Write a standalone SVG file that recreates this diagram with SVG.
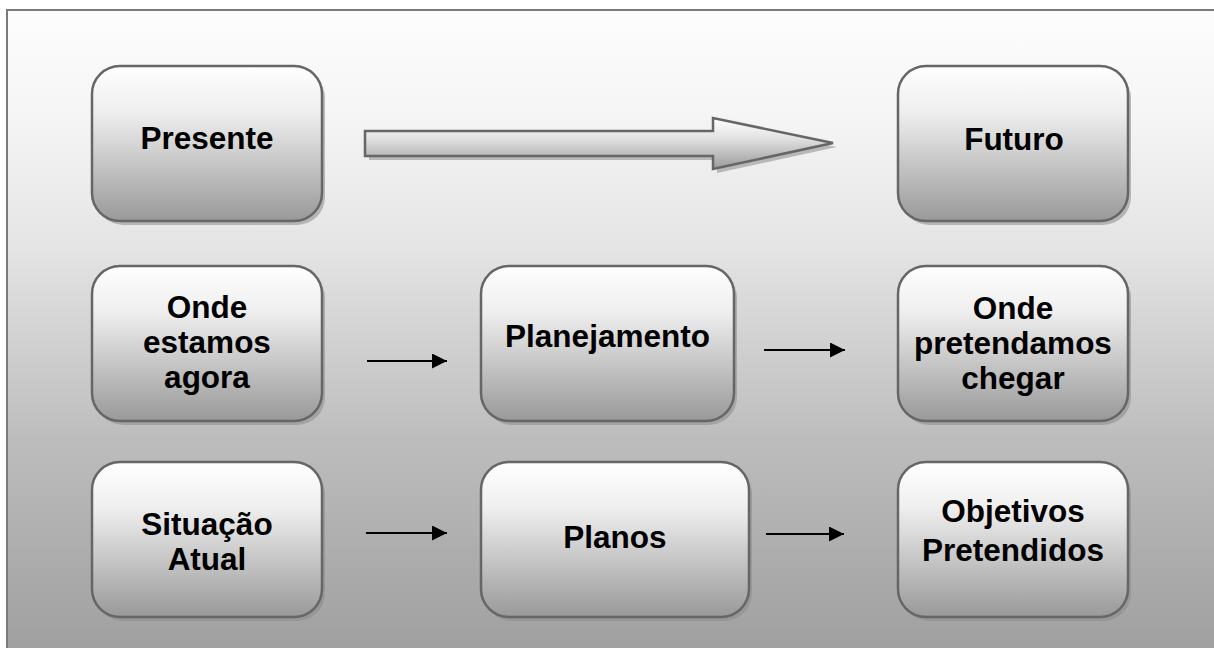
<svg xmlns="http://www.w3.org/2000/svg" width="1214" height="648" viewBox="0 0 1214 648">
  <defs>
    <linearGradient id="bg" x1="0" y1="10" x2="0" y2="648" gradientUnits="userSpaceOnUse">
      <stop offset="0" stop-color="#fdfdfd"/>
      <stop offset="0.15" stop-color="#f6f6f6"/>
      <stop offset="0.376" stop-color="#e4e4e4"/>
      <stop offset="0.67" stop-color="#bdbdbd"/>
      <stop offset="1" stop-color="#a0a0a0"/>
    </linearGradient>
    <linearGradient id="boxfill" x1="0" y1="0" x2="0" y2="1">
      <stop offset="0" stop-color="#ffffff"/>
      <stop offset="0.3" stop-color="#eeeeee"/>
      <stop offset="1" stop-color="#999999"/>
    </linearGradient>
    <linearGradient id="bigarrow" x1="0" y1="0" x2="0" y2="1">
      <stop offset="0" stop-color="#ffffff"/>
      <stop offset="0.4" stop-color="#e2e2e2"/>
      <stop offset="1" stop-color="#9a9a9a"/>
    </linearGradient>
    <marker id="head" markerWidth="15" markerHeight="15" refX="15" refY="7.5" orient="auto" markerUnits="userSpaceOnUse">
      <path d="M0,0 L15,7.5 L0,15 Z" fill="#000"/>
    </marker>
  </defs>
  <style>
    .box { fill: url(#boxfill); stroke: #666666; stroke-width: 2.5; }
    .shadow { fill: #8a8a8a; opacity: 0.55; }
    .label { font-family: "Liberation Sans", Arial, sans-serif; font-weight: bold; font-size: 31.5px; fill: #000; text-anchor: middle; }
    .conn { stroke: #000; stroke-width: 2; fill: none; marker-end: url(#head); }
  </style>

  <!-- page background and frame -->
  <rect x="0" y="0" width="1214" height="648" fill="#ffffff"/>
  <rect x="7" y="10" width="1220" height="650" fill="url(#bg)" stroke="#7a7a7a" stroke-width="2"/>

  <!-- timeline arrow -->
  <g id="timeline">
    <path d="M369,135 L717,135 L717,122 L837,147 L717,173 L717,160 L369,160 Z" class="shadow"/>
    <path d="M365,131 L713,131 L713,118 L833,143 L713,169 L713,156 L365,156 Z" fill="url(#bigarrow)" stroke="#666666" stroke-width="2.5" stroke-linejoin="miter"/>
  </g>

  <g id="presente">
    <rect x="95" y="70" width="230" height="155" rx="28" class="shadow"/>
    <rect x="92" y="66" width="230" height="155" rx="28" class="box"/>
    <text x="207" y="148.5" class="label">Presente</text>
  </g>

  <g id="futuro">
    <rect x="901" y="70" width="230" height="155" rx="28" class="shadow"/>
    <rect x="898" y="66" width="230" height="155" rx="28" class="box"/>
    <text x="1014" y="149.5" class="label">Futuro</text>
  </g>

  <g id="onde-estamos">
    <rect x="95" y="270" width="230" height="155" rx="28" class="shadow"/>
    <rect x="92" y="266" width="230" height="155" rx="28" class="box"/>
    <text class="label"><tspan x="207" y="318">Onde</tspan><tspan x="207" y="353">estamos</tspan><tspan x="207" y="388">agora</tspan></text>
  </g>

  <g id="planejamento">
    <rect x="484" y="270" width="253" height="155" rx="28" class="shadow"/>
    <rect x="481" y="266" width="253" height="155" rx="28" class="box"/>
    <text x="607.5" y="347" class="label">Planejamento</text>
  </g>

  <g id="onde-pretendamos">
    <rect x="901" y="270" width="230" height="155" rx="28" class="shadow"/>
    <rect x="898" y="266" width="230" height="155" rx="28" class="box"/>
    <text class="label"><tspan x="1013" y="319">Onde</tspan><tspan x="1013" y="354">pretendamos</tspan><tspan x="1013" y="389">chegar</tspan></text>
  </g>

  <g id="situacao-atual">
    <rect x="95" y="466" width="230" height="155" rx="28" class="shadow"/>
    <rect x="92" y="462" width="230" height="155" rx="28" class="box"/>
    <text class="label"><tspan x="207" y="535">Situação</tspan><tspan x="207" y="570">Atual</tspan></text>
  </g>

  <g id="planos">
    <rect x="484" y="466" width="268" height="155" rx="28" class="shadow"/>
    <rect x="481" y="462" width="268" height="155" rx="28" class="box"/>
    <text x="615" y="547.5" class="label">Planos</text>
  </g>

  <g id="objetivos">
    <rect x="901" y="466" width="230" height="155" rx="28" class="shadow"/>
    <rect x="898" y="462" width="230" height="155" rx="28" class="box"/>
    <text class="label"><tspan x="1013" y="522">Objetivos</tspan><tspan x="1013" y="560.5">Pretendidos</tspan></text>
  </g>

  <g id="connectors">
    <line x1="367" y1="361" x2="447" y2="361" class="conn"/>
    <line x1="764" y1="350" x2="845" y2="350" class="conn"/>
    <line x1="366" y1="533" x2="447" y2="533" class="conn"/>
    <line x1="766" y1="534" x2="844" y2="534" class="conn"/>
  </g>
</svg>
